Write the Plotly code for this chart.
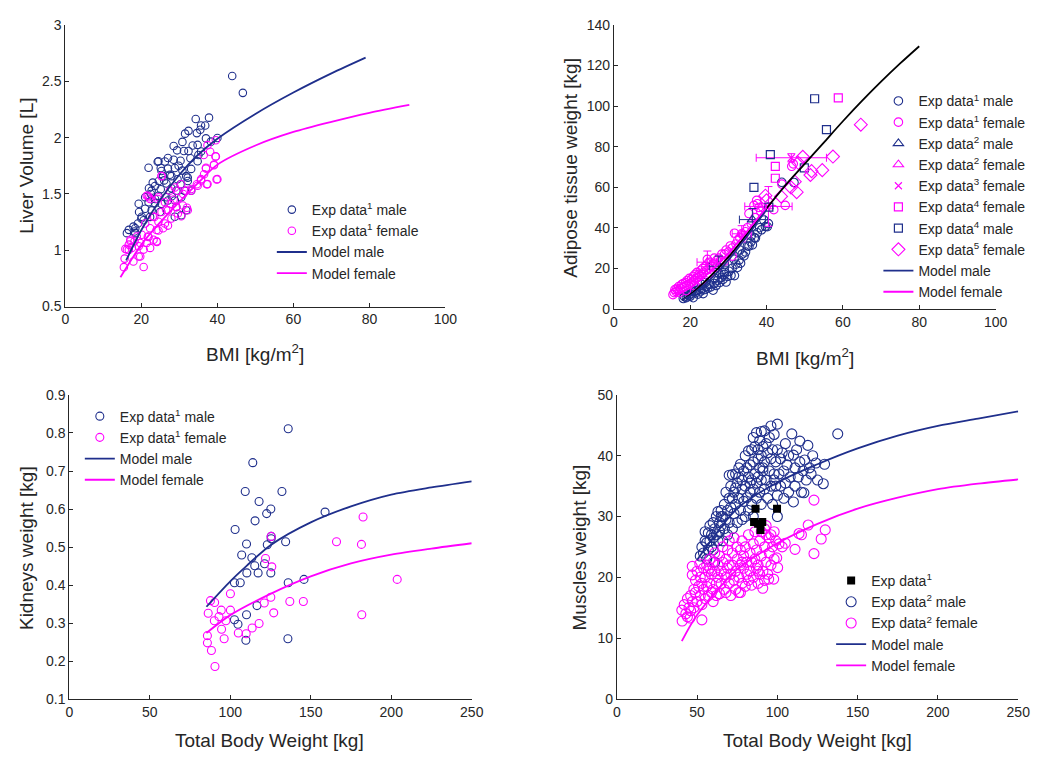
import plotly.graph_objects as go

NAVY = "#1f2f8c"
MAG = "#ff00ff"
INK = "#262626"
W, H = 1045, 760

# ---------------- Liver volume vs BMI ----------------
liver_m_bmi = [43.9, 46.7, 34.3, 37.8, 36.8, 35.5, 34.6, 32.4, 31.5, 35.7, 40.0, 33.5, 30.8, 28.5, 29.4,
               31.2, 32.4, 35.0, 32.9, 24.3, 26.2, 28.5, 30.3, 33.1, 25.1, 27.0, 28.8, 30.8, 31.8, 25.7,
               27.9, 29.5, 24.6, 26.6, 30.3, 23.6, 25.1, 27.9, 29.2, 32.2, 22.5, 24.5, 26.6, 30.5, 31.4,
               21.9, 23.6, 25.3, 28.8, 21.0, 22.7, 24.9, 19.4, 20.0, 18.4, 19.1, 18.2, 22.3, 20.6, 23.6,
               28.8, 30.5, 29.2, 27.0, 31.8, 33.1, 32.2, 25.3, 21.9, 24.5, 27.0, 34.8, 34.8, 35.7, 37.0,
               38.3, 21.0, 22.7, 19.3, 20.1, 18.4, 17.9, 16.7, 16.2, 26.0, 27.5, 29.8, 23.0, 22.0, 28.0]
liver_m_vol = [2.547, 2.397, 2.165, 2.177, 2.107, 2.07, 2.04, 2.06, 2.035, 2.107, 1.997, 1.93, 1.962, 1.925, 1.887,
               1.881, 1.881, 1.846, 1.817, 1.785, 1.788, 1.803, 1.794, 1.722, 1.73, 1.725, 1.73, 1.707, 1.658, 1.658,
               1.658, 1.63, 1.615, 1.592, 1.586, 1.571, 1.542, 1.551, 1.528, 1.615, 1.5, 1.484, 1.47, 1.47, 1.528,
               1.426, 1.418, 1.412, 1.441, 1.368, 1.354, 1.34, 1.34, 1.282, 1.195, 1.238, 1.166, 1.296, 1.267, 1.455,
               1.297, 1.311, 1.384, 1.442, 1.355, 1.529, 1.645, 1.703, 1.732, 1.79, 1.819, 1.935, 1.79, 1.877, 1.993,
               1.964, 1.471, 1.529, 1.413, 1.297, 1.152, 1.21, 1.181, 1.152, 1.62, 1.67, 1.75, 1.6, 1.55, 1.48]

liver_f_bmi = [39.6, 37.4, 38.1, 36.4, 39.6, 39.1, 37.0, 39.8, 37.2, 35.7, 34.6, 33.1, 32.0, 30.5, 29.5,
               30.5, 28.8, 27.5, 25.3, 22.0, 21.7, 24.3, 26.2, 27.7, 29.2, 30.9, 25.3, 27.0, 23.4, 24.5,
               26.2, 27.9, 21.0, 22.3, 24.0, 25.7, 21.7, 23.2, 20.1, 18.8, 19.7, 21.4, 24.0, 18.2, 17.1,
               16.7, 17.5, 19.3, 16.2, 15.8, 20.6, 22.3, 15.6, 15.4, 16.7, 19.3, 20.6, 17.1, 17.9, 19.7,
               21.9, 24.5, 24.1, 27.0, 29.6, 32.2, 31.8, 33.1, 34.8, 35.7, 36.5, 37.0, 39.1, 39.5, 40.0,
               37.4, 24.5, 25.3, 21.4, 22.3, 28.5, 31.0, 26.5, 23.0]
liver_f_vol = [1.977, 1.933, 1.875, 1.846, 1.832, 1.754, 1.725, 1.629, 1.586, 1.62, 1.586, 1.528, 1.377, 1.302, 1.528,
               1.586, 1.557, 1.528, 1.658, 1.47, 1.484, 1.455, 1.426, 1.412, 1.383, 1.397, 1.34, 1.354, 1.296, 1.253,
               1.238, 1.282, 1.238, 1.195, 1.18, 1.195, 1.122, 1.093, 1.137, 1.122, 1.064, 1.064, 1.079, 1.079, 1.093,
               1.05, 1.021, 1.035, 1.006, 1.012, 1.006, 1.021, 0.926, 0.85, 1.002, 0.944, 0.852, 1.08, 0.9, 0.944,
               1.118, 1.176, 1.074, 1.219, 1.326, 1.355, 1.529, 1.544, 1.573, 1.631, 1.674, 1.732, 1.761, 1.833, 1.631,
               1.587, 1.471, 1.659, 1.484, 1.455, 1.45, 1.5, 1.36, 1.3]

liver_model_m_bmi = [16, 20, 25, 30, 35, 40, 50, 60, 70, 79]
liver_model_m_vol = [0.91, 1.18, 1.45, 1.67, 1.85, 1.99, 2.21, 2.40, 2.57, 2.71]
liver_model_f_bmi = [14.5, 20, 25, 30, 35, 40, 50, 60, 70, 80, 90.5]
liver_model_f_vol = [0.76, 1.05, 1.25, 1.43, 1.60, 1.76, 1.93, 2.05, 2.14, 2.22, 2.29]

# ---------------- Adipose tissue vs BMI ----------------
adi_m1_bmi = [18.2, 18.5, 19.0, 19.2, 19.6, 20.0, 20.3, 20.8, 21.0, 21.5, 22.0, 22.3, 22.8, 23.0, 23.4,
              23.8, 24.2, 24.6, 25.0, 25.4, 26.0, 26.3, 26.8, 27.2, 27.8, 28.2, 28.6, 29.0, 29.4, 29.8,
              30.2, 30.7, 31.0, 31.6, 32.0, 32.4, 32.8, 33.2, 33.6, 34.1, 34.5, 35.0, 35.4, 35.9, 36.3,
              36.8, 37.1, 37.6, 38.2, 38.7, 39.3, 39.7, 40.2, 40.5, 44.0, 47.2, 24.0, 26.5, 29.0, 31.5,
              21.5, 23.0, 27.5, 33.0, 36.0]
adi_m1_fat = [5.1, 6.0, 5.5, 7.0, 6.5, 6.2, 7.5, 5.5, 8.5, 8.0, 7.2, 9.5, 8.8, 10.0, 7.5,
              9.5, 11.0, 10.2, 12.0, 10.8, 9.2, 12.5, 11.5, 14.0, 13.0, 15.5, 14.5, 17.0, 13.2, 16.0,
              18.5, 16.5, 20.0, 16.4, 22.0, 20.4, 24.0, 22.5, 27.0, 26.1, 28.0, 31.0, 30.9, 33.0, 31.5,
              35.0, 34.9, 37.5, 40.0, 39.0, 43.8, 40.6, 40.5, 42.0, 62.4, 62.3, 13.0, 15.0, 18.0, 24.5,
              9.0, 12.0, 17.5, 29.0, 36.0]

adi_f1_bmi = [15.5, 15.8, 16.0, 16.3, 16.5, 16.8, 17.0, 17.2, 17.5, 17.8, 18.0, 18.2, 18.5, 18.8, 19.0,
              19.2, 19.5, 19.8, 20.0, 20.3, 20.5, 20.8, 21.0, 21.3, 21.5, 21.8, 22.0, 22.3, 22.5, 22.8,
              23.0, 23.3, 23.5, 24.0, 24.2, 24.5, 25.0, 25.2, 25.5, 26.0, 26.3, 26.5, 27.0, 27.5, 28.0,
              28.3, 29.0, 29.4, 30.0, 30.5, 31.0, 31.6, 32.0, 32.5, 33.0, 33.5, 34.0, 34.5, 35.0, 35.4,
              36.0, 36.7, 37.0, 37.6, 38.0, 38.5, 39.0, 41.9, 44.9, 44.0, 46.6, 47.0, 37.4, 19.0, 21.0,
              23.0, 25.0, 27.0, 29.0, 31.0]
adi_f1_fat = [7.0, 8.0, 9.5, 8.5, 10.0, 9.0, 11.0, 8.0, 10.0, 12.0, 10.5, 12.5, 11.0, 13.0, 11.5,
              14.0, 12.0, 15.0, 12.5, 14.5, 13.0, 16.0, 14.0, 17.0, 15.0, 18.0, 15.5, 17.0, 16.0, 19.0,
              17.0, 20.0, 18.0, 21.0, 19.0, 24.4, 20.0, 23.0, 21.0, 22.0, 25.0, 22.5, 24.0, 25.0, 24.0,
              27.0, 27.0, 29.0, 28.0, 31.0, 30.0, 37.3, 32.0, 34.0, 35.0, 37.0, 36.0, 38.0, 40.0, 47.0,
              42.0, 51.0, 45.0, 51.8, 50.0, 48.0, 50.0, 48.9, 51.0, 61.5, 70.3, 71.5, 53.5, 9.0, 11.5,
              14.0, 17.5, 20.5, 23.5, 26.0]

adi_m2_bmi = [27.5, 36.3]
adi_m2_fat = [21.0, 44.0]
adi_m2_xerr = [2.5, 3.4]
adi_m2_yerr = [5.0, 5.5]

adi_f2_bmi = [24.5, 33.5, 40.5]
adi_f2_fat = [23.0, 37.0, 50.5]
adi_f2_xerr = [2.7, 2.5, 6.2]
adi_f2_yerr = [5.5, 4.0, 9.8]

adi_f3_bmi = [46.5]
adi_f3_fat = [74.5]
adi_f3_xerr = [9.2]
adi_f3_yerr = [2.0]

adi_f4_bmi = [58.8, 42.3, 42.3]
adi_f4_fat = [104.0, 70.3, 64.4]
adi_m4_bmi = [52.6, 55.7, 41.0, 49.9, 36.7, 40.6]
adi_m4_fat = [103.6, 88.4, 76.0, 69.5, 59.9, 50.2]

adi_f5_bmi = [64.7, 57.4, 54.6, 51.8, 51.5, 49.5, 48.3, 47.9, 46.4, 43.8, 39.7, 40.0, 47.4]
adi_f5_fat = [90.8, 75.1, 68.4, 67.9, 66.0, 75.0, 72.0, 57.5, 59.9, 55.4, 55.8, 53.5, 62.7]

adi_model_m_bmi = [18, 20, 25, 30, 35, 40]
adi_model_m_fat = [4.5, 6.5, 14.0, 24.0, 36.0, 49.0]
adi_model_f_bmi = [16, 20, 25, 30, 35, 40]
adi_model_f_fat = [6.5, 10.5, 18.0, 27.5, 38.5, 50.0]
adi_model_all_bmi = [18, 20, 25, 30, 35, 40, 45, 50, 55, 60, 65, 70, 75, 80]
adi_model_all_fat = [4.5, 7.0, 15.5, 25.5, 37.0, 49.5, 61.0, 71.5, 82.0, 92.5, 102.5, 112.0, 121.0, 129.5]

# ---------------- Kidneys vs total body weight ----------------
kid_m_tbw = [136.0, 114.0, 109.3, 132.1, 117.9, 125.2, 122.6, 158.9, 115.4, 103.0, 125.4, 125.4, 110.1, 123.0,
             134.4, 107.1, 113.4, 115.2, 121.3, 110.3, 117.3, 125.2, 102.6, 106.2, 136.0, 145.8, 116.6, 110.1,
             102.6, 104.8, 109.7, 135.8]
kid_m_w = [0.811, 0.722, 0.646, 0.646, 0.620, 0.600, 0.588, 0.592, 0.569, 0.546, 0.528, 0.522, 0.508, 0.506,
           0.514, 0.479, 0.472, 0.451, 0.456, 0.432, 0.432, 0.432, 0.406, 0.406, 0.406, 0.415, 0.346, 0.322,
           0.309, 0.297, 0.255, 0.259]
kid_f_tbw = [182.5, 166.0, 181.5, 203.7, 181.7, 125.4, 121.9, 125.8, 100.1, 87.7, 90.3, 137.0, 145.4, 121.1,
             125.2, 86.3, 94.4, 100.1, 127.0, 93.0, 90.1, 97.3, 94.6, 85.8, 105.0, 109.9, 113.6, 117.9, 96.2,
             85.8, 88.3, 90.5]
kid_f_w = [0.579, 0.514, 0.507, 0.415, 0.322, 0.528, 0.470, 0.448, 0.377, 0.359, 0.354, 0.357, 0.357, 0.353,
           0.368, 0.326, 0.334, 0.334, 0.327, 0.317, 0.306, 0.306, 0.284, 0.267, 0.274, 0.272, 0.287, 0.299,
           0.259, 0.248, 0.228, 0.186]

kid_model_m_tbw = [85.2, 100, 110, 125, 150, 175, 200, 225, 250]
kid_model_m = [0.343, 0.410, 0.450, 0.505, 0.565, 0.607, 0.638, 0.657, 0.673]
kid_model_f_tbw = [85.2, 100, 125, 150, 175, 200, 225, 250]
kid_model_f = [0.274, 0.321, 0.377, 0.423, 0.457, 0.480, 0.496, 0.510]

# ---------------- Muscles vs total body weight ----------------
mus_1_tbw = [86.4, 99.8, 85.5, 90.6, 89.5, 88.0]
mus_1_w = [31.3, 31.3, 29.1, 29.1, 27.8, 28.8]

mus_m_tbw = [52, 53, 54, 55, 55, 56, 56, 57, 57, 58, 58, 59, 59, 60, 60, 60, 61, 61, 62, 62, 63, 63, 64, 64,
             65, 65, 66, 66, 67, 67, 68, 68, 69, 69, 70, 70, 70, 71, 71, 72, 72, 73, 73, 74, 74, 74, 75, 75,
             76, 76, 77, 77, 78, 78, 78, 79, 79, 80, 80, 80, 81, 81, 82, 82, 82, 83, 83, 84, 84, 84, 85, 85,
             85, 85, 86, 86, 87, 87, 87, 88, 88, 88, 89, 89, 89, 90, 90, 90, 90, 91, 91, 92, 92, 92, 93, 93,
             94, 94, 95, 95, 96, 96, 96, 97, 97, 98, 98, 99, 99, 100, 100, 100, 100, 101, 102, 102, 103, 104,
             104, 105, 105, 106, 107, 107, 108, 109, 110, 110, 111, 111, 112, 113, 114, 114, 115, 116, 116.5,
             117, 118, 119, 120, 121, 122, 124, 125, 128.6, 129.4, 137.6, 76, 83, 91, 98, 72, 65]
mus_m_w = [23.5, 25, 24, 26, 27.5, 23, 25.7, 27.3, 24.5, 26, 28.5, 25, 27, 24.5, 29, 26.5, 22.5, 28, 30, 27,
           30.8, 26, 29, 27.5, 31, 28.5, 26, 30, 32, 28, 34, 29.5, 31, 27, 33, 36.8, 29, 35, 31.5, 36.9, 28,
           34, 30.5, 34.7, 37, 32, 29, 35.5, 38, 33, 38.6, 31, 36, 34.5, 29.5, 37.5, 32.5, 40, 35, 30, 33.1, 38,
           40.8, 36.5, 31, 34, 38.5, 41, 36, 32, 43, 39, 34.5, 30, 37, 41.5, 43.8, 33, 35.5, 39.5, 41, 36.5,
           38, 34, 42.5, 44, 40, 36, 32, 37.5, 41.5, 44.1, 39, 34.5, 36, 42, 40.5, 33, 37.5, 43, 44.9, 35, 39.5,
           41, 32, 37, 43.5, 35, 39, 45.2, 30, 33.5, 41, 37, 39.5, 35, 40.5, 33, 37.5, 42, 35.5, 38.5, 34, 40,
           36.5, 43.6, 40.1, 32.4, 38, 35, 41, 36.5, 42.4, 39, 34, 37.5, 33.9, 39.3, 36, 41.7, 38, 37, 40,
           38.8, 36, 35.4, 38.6, 43.6, 36.5, 35.5, 38, 36, 33, 30]

mus_f_tbw = [40.7, 40.5, 42, 43, 44, 44, 45, 45.6, 46, 46, 47, 47, 47, 48, 48, 49, 49, 50, 50, 51, 51.7, 52,
             52, 53, 53, 53, 54, 54, 55, 55, 56, 56, 57, 57, 58, 58, 59, 59, 60, 60, 60, 61, 61, 62, 62, 63,
             63, 64, 64, 65, 65, 66, 66, 67, 67, 68, 68, 69, 69, 70, 70, 70, 71, 71, 72, 72, 73, 73, 74, 74,
             75, 75, 76, 76, 77, 77, 77, 78, 78, 79, 79, 80, 80, 81, 81, 82, 82, 83, 83, 84, 84, 85, 85, 86,
             86, 87, 87, 88, 88, 89, 89, 90, 90, 90.9, 91, 92, 92, 93, 93, 94, 94.6, 95, 95, 96, 97, 97.7, 98,
             98, 99, 99.6, 100.2, 101, 103, 104.9, 111, 113.5, 115, 119.2, 122.8, 122.8, 127.3, 129.8, 92, 96,
             93, 58, 68, 78, 88]
mus_f_w = [12.8, 14.6, 15.5, 14, 16.5, 13.5, 15, 13.3, 17, 14.5, 21.8, 20.4, 16, 18, 15, 17.5, 19.5, 16, 21,
           18.5, 22.2, 17, 20, 13, 19, 15.5, 21.5, 18, 16.5, 20, 22, 18.5, 17, 21, 19, 23, 17.5, 20.5, 22.5,
           18, 16, 21, 24, 19, 17, 22, 20, 17.3, 23.5, 21, 19, 25, 22.5, 18, 20.5, 23, 17.5, 21.5, 24.5, 19,
           22, 26, 17, 20.5, 24, 22, 19.5, 26.5, 21, 18, 23, 25, 20, 17.5, 22, 17.5, 24.5, 19, 26, 21.5, 23.5,
           18.5, 25, 20.5, 22.5, 27, 19.5, 24, 21, 22.5, 18.7, 25.5, 20, 23, 27.5, 21.5, 24.5, 19, 22, 26,
           20.5, 23.5, 27.5, 18.2, 21, 25, 19.5, 22.5, 27, 20.5, 19.7, 24, 26.5, 22, 25, 19.7, 27.5, 23, 26,
           23.2, 21.6, 25.5, 25, 25.6, 24.6, 27.2, 27, 28.6, 32.7, 23.9, 26.3, 27.8, 28, 27, 28.5, 21.5, 20,
           22.5, 21]

mus_model_m_tbw = [50.1, 75, 100, 125, 150, 175, 200, 225, 250]
mus_model_m_w = [22.9, 31.3, 35.6, 38.6, 41.2, 43.3, 44.9, 46.1, 47.3]
mus_model_f_tbw = [40.5, 50, 75, 100, 125, 150, 175, 200, 225, 250]
mus_model_f_w = [9.5, 13.8, 21.3, 25.6, 28.8, 31.3, 33.1, 34.5, 35.4, 36.1]


def circles(x, y, color, name, xa, ya, legend, size, **kw):
    return go.Scatter(x=x, y=y, mode="markers", name=name, xaxis=xa, yaxis=ya, legend=legend,
                      marker=dict(symbol="circle-open", size=size, color=color, line=dict(width=1.1)),
                      **kw)


def curve(x, y, color, name, xa, ya, legend, show=True, **kw):
    return go.Scatter(x=x, y=y, mode="lines", name=name, xaxis=xa, yaxis=ya, legend=legend,
                      line=dict(color=color, width=1.8, shape="spline", smoothing=0.8),
                      showlegend=show, **kw)


fig = go.Figure()

# Liver
fig.add_trace(circles(liver_m_bmi, liver_m_vol, NAVY, "Exp data<sup>1</sup> male", "x", "y", "legend", 7.5))
fig.add_trace(circles(liver_f_bmi, liver_f_vol, MAG, "Exp data<sup>1</sup> female", "x", "y", "legend", 7.5))
fig.add_trace(curve(liver_model_m_bmi, liver_model_m_vol, NAVY, "Model male", "x", "y", "legend"))
fig.add_trace(curve(liver_model_f_bmi, liver_model_f_vol, MAG, "Model female", "x", "y", "legend"))

# Adipose
fig.add_trace(circles(adi_m1_bmi, adi_m1_fat, NAVY, "Exp data<sup>1</sup> male", "x2", "y2", "legend2", 8.5))
fig.add_trace(circles(adi_f1_bmi, adi_f1_fat, MAG, "Exp data<sup>1</sup> female", "x2", "y2", "legend2", 8.5))


def errpts(x, y, xe, ye, color, symbol, size, name):
    return go.Scatter(x=x, y=y, mode="markers", name=name, xaxis="x2", yaxis="y2", legend="legend2",
                      marker=dict(symbol=symbol, size=size, color=color, line=dict(width=1.1)),
                      error_x=dict(type="data", array=xe, color=color, thickness=1, width=4),
                      error_y=dict(type="data", array=ye, color=color, thickness=1, width=4))


fig.add_trace(errpts(adi_m2_bmi, adi_m2_fat, adi_m2_xerr, adi_m2_yerr, NAVY, "triangle-up-open", 9,
                     "Exp data<sup>2</sup> male"))
fig.add_trace(errpts(adi_f2_bmi, adi_f2_fat, adi_f2_xerr, adi_f2_yerr, MAG, "triangle-up-open", 9,
                     "Exp data<sup>2</sup> female"))
fig.add_trace(errpts(adi_f3_bmi, adi_f3_fat, adi_f3_xerr, adi_f3_yerr, MAG, "x-thin-open", 7,
                     "Exp data<sup>3</sup> female"))
fig.add_trace(go.Scatter(x=adi_f4_bmi, y=adi_f4_fat, mode="markers", name="Exp data<sup>4</sup> female",
                         xaxis="x2", yaxis="y2", legend="legend2",
                         marker=dict(symbol="square-open", size=8, color=MAG, line=dict(width=1.2))))
fig.add_trace(go.Scatter(x=adi_m4_bmi, y=adi_m4_fat, mode="markers", name="Exp data<sup>4</sup> male",
                         xaxis="x2", yaxis="y2", legend="legend2",
                         marker=dict(symbol="square-open", size=8, color=NAVY, line=dict(width=1.2))))
fig.add_trace(go.Scatter(x=adi_f5_bmi, y=adi_f5_fat, mode="markers", name="Exp data<sup>5</sup> female",
                         xaxis="x2", yaxis="y2", legend="legend2",
                         marker=dict(symbol="diamond-open", size=10, color=MAG, line=dict(width=1.1))))
fig.add_trace(curve(adi_model_all_bmi, adi_model_all_fat, "#000000", "Model", "x2", "y2", "legend2", show=False))
fig.add_trace(curve(adi_model_m_bmi, adi_model_m_fat, NAVY, "Model male", "x2", "y2", "legend2"))
fig.add_trace(curve(adi_model_f_bmi, adi_model_f_fat, MAG, "Model female", "x2", "y2", "legend2"))

# Kidneys
fig.add_trace(circles(kid_m_tbw, kid_m_w, NAVY, "Exp data<sup>1</sup> male", "x3", "y3", "legend3", 8))
fig.add_trace(circles(kid_f_tbw, kid_f_w, MAG, "Exp data<sup>1</sup> female", "x3", "y3", "legend3", 8))
fig.add_trace(curve(kid_model_m_tbw, kid_model_m, NAVY, "Model male", "x3", "y3", "legend3"))
fig.add_trace(curve(kid_model_f_tbw, kid_model_f, MAG, "Model female", "x3", "y3", "legend3"))

# Muscles
fig.add_trace(circles(mus_m_tbw, mus_m_w, NAVY, "Exp data<sup>2</sup> male", "x4", "y4", "legend4", 10,
                      legendrank=2))
fig.add_trace(circles(mus_f_tbw, mus_f_w, MAG, "Exp data<sup>2</sup> female", "x4", "y4", "legend4", 10,
                      legendrank=3))
fig.add_trace(go.Scatter(x=mus_1_tbw, y=mus_1_w, mode="markers", name="Exp data<sup>1</sup>",
                         xaxis="x4", yaxis="y4", legend="legend4", legendrank=1,
                         marker=dict(symbol="square", size=8, color="#000000", line=dict(width=0))))
fig.add_trace(curve(mus_model_m_tbw, mus_model_m_w, NAVY, "Model male", "x4", "y4", "legend4", legendrank=4))
fig.add_trace(curve(mus_model_f_tbw, mus_model_f_w, MAG, "Model female", "x4", "y4", "legend4", legendrank=5))


def px_x(p):
    return p / W


def px_y(p):
    return 1 - p / H


def axis(domain, rng, dtick, anchor):
    return dict(domain=domain, range=rng, dtick=dtick, tick0=rng[0], anchor=anchor,
                showgrid=False, zeroline=False, showline=True, linecolor=INK, linewidth=1,
                ticks="inside", ticklen=4, tickcolor=INK, tickwidth=1,
                tickfont=dict(family="Arial", size=14, color=INK), fixedrange=True)


layout_axes = dict(
    xaxis=axis([px_x(62.3), px_x(448.3)], [0, 100], 20, "y"),
    yaxis=axis([px_y(305), px_y(17.3)], [0.5, 3], 0.5, "x"),
    xaxis2=axis([px_x(619.3), px_x(1007)], [0, 100], 20, "y2"),
    yaxis2=axis([px_y(307.3), px_y(17.3)], [0, 140], 20, "x2"),
    xaxis3=axis([px_x(66.3), px_x(475)], [0, 250], 50, "y3"),
    yaxis3=axis([px_y(706), px_y(395.3)], [0.1, 0.9], 0.1, "x3"),
    xaxis4=axis([px_x(622.3), px_x(1030)], [0, 250], 50, "y4"),
    yaxis4=axis([px_y(705.7), px_y(395.3)], [0, 50], 10, "x4"),
)


def legend_at(xp, yp):
    return dict(x=px_x(xp), y=px_y(yp), xanchor="left", yanchor="top", bgcolor="rgba(0,0,0,0)",
                borderwidth=0, font=dict(family="Arial", size=14, color=INK), tracegroupgap=0)


titles = [
    ("Liver Volume [L]", 22, 161.5, -90),
    ("BMI [kg/m<sup>2</sup>]", 255, 352, 0),
    ("Adipose tissue weight [kg]", 575, 163, -90),
    ("BMI [kg/m<sup>2</sup>]", 813, 356, 0),
    ("Kidneys weight [kg]", 23, 552, -90),
    ("Total Body Weight [kg]", 270, 748, 0),
    ("Muscles weight [kg]", 584, 551, -90),
    ("Total Body Weight [kg]", 826, 748, 0),
]
annotations = [dict(text=t, x=px_x(xp), y=px_y(yp), xref="paper", yref="paper", showarrow=False,
                    textangle=a, xanchor="center", yanchor="middle",
                    font=dict(family="Arial", size=19, color=INK)) for t, xp, yp, a in titles]

fig.update_layout(
    width=W, height=H, margin=dict(l=0, r=0, t=0, b=0),
    paper_bgcolor="white", plot_bgcolor="white",
    font=dict(family="Arial", color=INK),
    legend=legend_at(272, 190),
    legend2=legend_at(888, 79),
    legend3=legend_at(77, 401),
    legend4=legend_at(840, 569),
    annotations=annotations,
    **layout_axes,
)

fig.write_html("out.html")
